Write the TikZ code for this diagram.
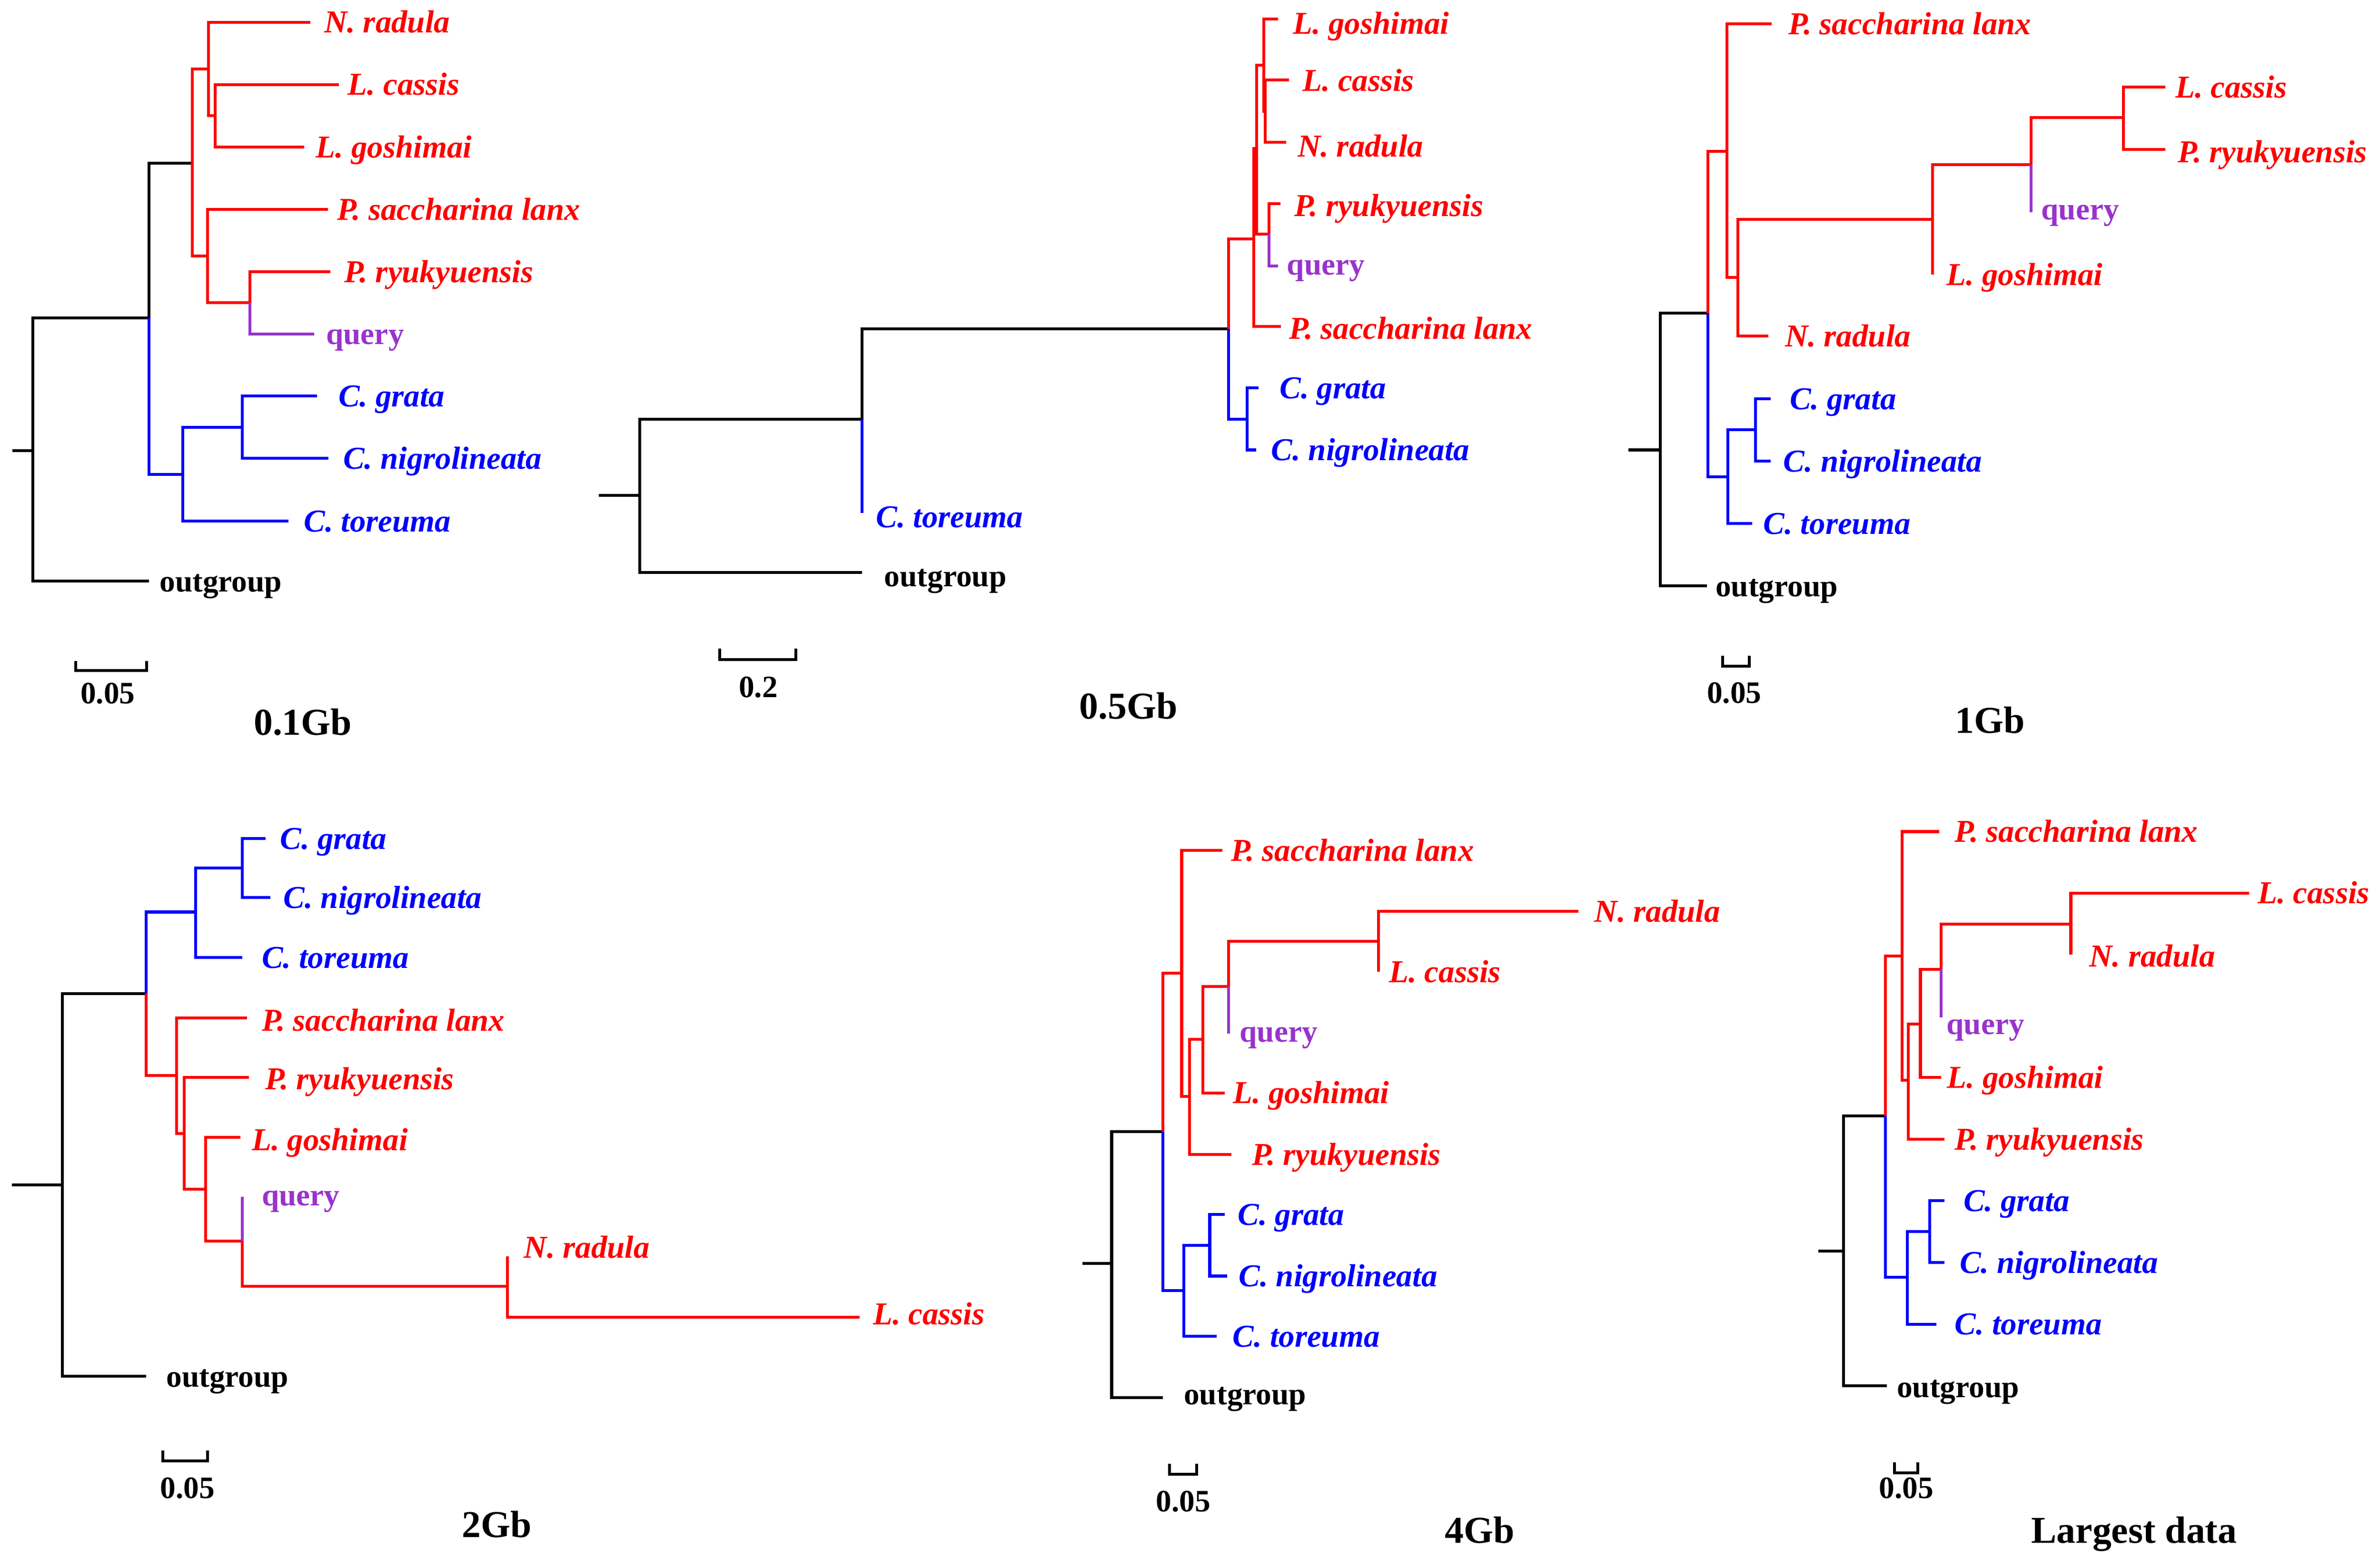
\documentclass[tikz,border=0pt]{standalone}
\usepackage{fontspec}
\setmainfont{Liberation Serif}
\definecolor{tred}{RGB}{255,0,0}
\definecolor{tblue}{RGB}{0,0,255}
\definecolor{tpurp}{RGB}{153,51,204}
\tikzset{
 br/.style={line width=1.9pt, line join=miter},
 sp/.style={anchor=base west, inner sep=0pt, yshift=-7pt, font=\fontsize{21}{24}\selectfont\bfseries\itshape},
 pl/.style={anchor=base west, inner sep=0pt, yshift=-7pt, font=\fontsize{20.5}{24}\selectfont\bfseries},
 sc/.style={anchor=base, inner sep=0pt, yshift=-7pt, font=\fontsize{20.5}{24}\selectfont\bfseries},
 ttl/.style={anchor=base, inner sep=0pt, yshift=-8.3pt, font=\fontsize{25}{30}\selectfont\bfseries},
}
\begin{document}
\begin{tikzpicture}[x=1pt,y=-1pt]
\useasboundingbox (0,0) rectangle (1568,1033.2);
\fill[white] (0,0) rectangle (1568,1033.2);

%% ---------------- Panel a : 0.1Gb ----------------
\coordinate (a-st) at (8,297);
\coordinate (a-r) at (21.5,297);
\coordinate (a-n1) at (98.2,209.5);
\coordinate (a-og) at (98.2,383);
\coordinate (a-R) at (126.6,107.6);
\coordinate (a-B) at (120.3,312.7);
\coordinate (a-R1) at (137.5,45.6);
\coordinate (a-R2) at (141.8,76.2);
\coordinate (a-R3) at (136.7,168.7);
\coordinate (a-R4) at (164.6,199.4);
\coordinate (a-B1) at (159.5,281.6);
\coordinate (a-nr) at (204.6,14.6);
\coordinate (a-lc) at (223.3,55.7);
\coordinate (a-lg) at (200.5,96.8);
\coordinate (a-ps) at (216,138);
\coordinate (a-pr) at (217.7,179);
\coordinate (a-q) at (207,220);
\coordinate (a-cg) at (208.9,261);
\coordinate (a-cn) at (216.5,302);
\coordinate (a-ct) at (189.9,343.4);
\draw[br,black] (a-st) -- (a-r);
\draw[br,black] (a-r) |- (a-n1);
\draw[br,black] (a-r) |- (a-og);
\draw[br,black] (a-n1) |- (a-R);
\draw[br,tblue] (a-n1) |- (a-B);
\draw[br,tblue] (a-B) |- (a-B1);
\draw[br,tblue] (a-B) |- (a-ct);
\draw[br,tblue] (a-B1) |- (a-cg);
\draw[br,tblue] (a-B1) |- (a-cn);
\draw[br,tred] (a-R) |- (a-R1);
\draw[br,tred] (a-R) |- (a-R3);
\draw[br,tred] (a-R1) |- (a-nr);
\draw[br,tred] (a-R1) |- (a-R2);
\draw[br,tred] (a-R2) |- (a-lc);
\draw[br,tred] (a-R2) |- (a-lg);
\draw[br,tred] (a-R3) |- (a-ps);
\draw[br,tred] (a-R3) |- (a-R4);
\draw[br,tred] (a-R4) |- (a-pr);
\draw[br,tpurp] (a-R4) |- (a-q);
\node[sp,tred] (a-nrL) at (213.4,14.6) {N. radula};
\node[sp,tred] (a-lcL) at (229,55.7) {L. cassis};
\node[sp,tred] (a-lgL) at (208,96.8) {L. goshimai};
\node[sp,tred] (a-psL) at (222,138) {P. saccharina lanx};
\node[sp,tred] (a-prL) at (226.6,179) {P. ryukyuensis};
\node[pl,tpurp] (a-qL) at (214.7,220) {query};
\node[sp,tblue] (a-cgL) at (222.8,261) {C. grata};
\node[sp,tblue] (a-cnL) at (226,302) {C. nigrolineata};
\node[sp,tblue] (a-ctL) at (200,343.4) {C. toreuma};
\node[pl,black] (a-ogL) at (105,383) {outgroup};
\coordinate (a-s1) at (50,442);
\coordinate (a-s2) at (96.7,442);
\draw[br,black] (a-s1) ++(0,-6.5) -- (a-s1) -- (a-s2) -- ++(0,-6.5);
\node[sc] (a-sL) at (71,456.6) {0.05};
\node[ttl] (a-T) at (199.5,476) {0.1Gb};

%% ---------------- Panel b : 0.5Gb ----------------
\coordinate (b-st) at (394.4,326.6);
\coordinate (b-r) at (421.5,326.6);
\coordinate (b-n1) at (567.8,276.3);
\coordinate (b-og) at (567.8,377.2);
\coordinate (b-ct) at (567.8,338);
\coordinate (b-n2) at (809.5,216.8);
\coordinate (b-R) at (826,157.3);
\coordinate (b-B) at (821.5,276.3);
\coordinate (b-A) at (828,98);
\coordinate (b-ps) at (844,215.1);
\coordinate (b-Bn) at (832.6,43);
\coordinate (b-C) at (836,154.3);
\coordinate (b-lg) at (842.1,12.6);
\coordinate (b-D) at (833.6,73.4);
\coordinate (b-lc) at (849.2,52.7);
\coordinate (b-nr) at (847.3,93.8);
\coordinate (b-pr) at (843.5,134.3);
\coordinate (b-q) at (842.1,175.4);
\coordinate (b-cg) at (829,255.7);
\coordinate (b-cn) at (827.7,296.5);
\draw[br,black] (b-st) -- (b-r);
\draw[br,black] (b-r) |- (b-n1);
\draw[br,black] (b-r) |- (b-og);
\draw[br,black] (b-n1) |- (b-n2);
\draw[br,tblue] (b-n1) -- (b-ct);
\draw[br,tblue] (b-n2) |- (b-B);
\draw[br,tblue] (b-B) |- (b-cg);
\draw[br,tblue] (b-B) |- (b-cn);
\draw[br,tred] (b-n2) |- (b-R);
\draw[br,tred] (b-R) |- (b-A);
\draw[br,tred] (b-R) |- (b-ps);
\draw[br,tred] (b-A) |- (b-Bn);
\draw[br,tred] (b-A) |- (b-C);
\draw[br,tred] (b-Bn) |- (b-lg);
\draw[br,tred] (b-Bn) |- (b-D);
\draw[br,tred] (b-D) |- (b-lc);
\draw[br,tred] (b-D) |- (b-nr);
\draw[br,tred] (b-C) |- (b-pr);
\draw[br,tpurp] (b-C) |- (b-q);
\node[sp,tred] (b-lgL) at (851.8,15.5) {L. goshimai};
\node[sp,tred] (b-lcL) at (858,53.2) {L. cassis};
\node[sp,tred] (b-nrL) at (854.7,96.2) {N. radula};
\node[sp,tred] (b-prL) at (852.6,135.5) {P. ryukyuensis};
\node[pl,tpurp] (b-qL) at (847.7,174) {query};
\node[sp,tred] (b-psL) at (849.3,216.5) {P. saccharina lanx};
\node[sp,tblue] (b-cgL) at (843,255.7) {C. grata};
\node[sp,tblue] (b-cnL) at (837.3,296.5) {C. nigrolineata};
\node[sp,tblue] (b-ctL) at (577,340.5) {C. toreuma};
\node[pl,black] (b-ogL) at (582.4,379.5) {outgroup};
\coordinate (b-s1) at (474.3,434.5);
\coordinate (b-s2) at (524.2,434.5);
\draw[br,black] (b-s1) ++(0,-7) -- (b-s1) -- (b-s2) -- ++(0,-7);
\node[sc] (b-sL) at (499.6,452.5) {0.2};
\node[ttl] (b-T) at (743.5,465.5) {0.5Gb};

%% ---------------- Panel c : 1Gb ----------------
\coordinate (c-st) at (1072.8,296.5);
\coordinate (c-r) at (1093.7,296.5);
\coordinate (c-n1) at (1125.2,206.3);
\coordinate (c-og) at (1124.5,386);
\coordinate (c-R) at (1137.7,99.7);
\coordinate (c-B) at (1138.4,314.2);
\coordinate (c-E) at (1145,182.9);
\coordinate (c-F) at (1273.2,144.6);
\coordinate (c-G) at (1338.1,108.5);
\coordinate (c-H) at (1399,77.5);
\coordinate (c-I) at (1156.6,283.2);
\coordinate (c-ps) at (1167.2,15.8);
\coordinate (c-nr) at (1164.9,221.5);
\coordinate (c-lg) at (1273.2,181);
\coordinate (c-q) at (1338.1,139.9);
\coordinate (c-lc) at (1426.5,57.3);
\coordinate (c-pr) at (1426.5,98.4);
\coordinate (c-cg) at (1166.5,262.7);
\coordinate (c-cn) at (1166.5,303.8);
\coordinate (c-ct) at (1154.3,345);
\draw[br,black] (c-st) -- (c-r);
\draw[br,black] (c-r) |- (c-n1);
\draw[br,black] (c-r) |- (c-og);
\draw[br,tred] (c-n1) |- (c-R);
\draw[br,tblue] (c-n1) |- (c-B);
\draw[br,tred] (c-R) |- (c-ps);
\draw[br,tred] (c-R) |- (c-E);
\draw[br,tred] (c-E) |- (c-F);
\draw[br,tred] (c-E) |- (c-nr);
\draw[br,tred] (c-F) |- (c-G);
\draw[br,tred] (c-F) -- (c-lg);
\draw[br,tred] (c-G) |- (c-H);
\draw[br,tpurp] (c-G) -- (c-q);
\draw[br,tred] (c-H) |- (c-lc);
\draw[br,tred] (c-H) |- (c-pr);
\draw[br,tblue] (c-B) |- (c-I);
\draw[br,tblue] (c-B) |- (c-ct);
\draw[br,tblue] (c-I) |- (c-cg);
\draw[br,tblue] (c-I) |- (c-cn);
\node[sp,tred] (c-psL) at (1178,15.8) {P. saccharina lanx};
\node[sp,tred] (c-lcL) at (1433,57.3) {L. cassis};
\node[sp,tred] (c-prL) at (1434.8,100) {P. ryukyuensis};
\node[pl,tpurp] (c-qL) at (1344.7,137.7) {query};
\node[sp,tred] (c-lgL) at (1282.4,181) {L. goshimai};
\node[sp,tred] (c-nrL) at (1175.8,221.5) {N. radula};
\node[sp,tblue] (c-cgL) at (1179,262.7) {C. grata};
\node[sp,tblue] (c-cnL) at (1174.8,303.8) {C. nigrolineata};
\node[sp,tblue] (c-ctL) at (1161.6,345) {C. toreuma};
\node[pl,black] (c-ogL) at (1130,386) {outgroup};
\coordinate (c-s1) at (1135,439);
\coordinate (c-s2) at (1152.6,439);
\draw[br,black] (c-s1) ++(0,-7) -- (c-s1) -- (c-s2) -- ++(0,-7);
\node[sc] (c-sL) at (1142.5,456.3) {0.05};
\node[ttl] (c-T) at (1311,474.7) {1Gb};

%% ---------------- Panel d : 2Gb ----------------
\coordinate (d-st) at (7.8,781);
\coordinate (d-r) at (41.2,781);
\coordinate (d-n1) at (96.4,654.7);
\coordinate (d-og) at (96.4,907);
\coordinate (d-B) at (128.9,601);
\coordinate (d-J) at (159.7,572);
\coordinate (d-R) at (116.3,708.7);
\coordinate (d-K) at (121.5,747);
\coordinate (d-L) at (135.4,783.7);
\coordinate (d-M) at (159.7,818);
\coordinate (d-N) at (334.2,847.7);
\coordinate (d-cg) at (174.9,552.7);
\coordinate (d-cn) at (178,591.4);
\coordinate (d-ct) at (159.7,631);
\coordinate (d-ps) at (162.8,670.7);
\coordinate (d-pr) at (164,710);
\coordinate (d-lg) at (158.4,749.4);
\coordinate (d-q) at (159.7,788.7);
\coordinate (d-nr) at (334.2,828);
\coordinate (d-lc) at (566.4,868);
\draw[br,black] (d-st) -- (d-r);
\draw[br,black] (d-r) |- (d-n1);
\draw[br,black] (d-r) |- (d-og);
\draw[br,tblue] (d-n1) |- (d-B);
\draw[br,tred] (d-n1) |- (d-R);
\draw[br,tblue] (d-B) |- (d-J);
\draw[br,tblue] (d-B) |- (d-ct);
\draw[br,tblue] (d-J) |- (d-cg);
\draw[br,tblue] (d-J) |- (d-cn);
\draw[br,tred] (d-R) |- (d-ps);
\draw[br,tred] (d-R) |- (d-K);
\draw[br,tred] (d-K) |- (d-pr);
\draw[br,tred] (d-K) |- (d-L);
\draw[br,tred] (d-L) |- (d-lg);
\draw[br,tred] (d-L) |- (d-M);
\draw[br,tpurp] (d-M) -- (d-q);
\draw[br,tred] (d-M) |- (d-N);
\draw[br,tred] (d-N) -- (d-nr);
\draw[br,tred] (d-N) |- (d-lc);
\node[sp,tblue] (d-cgL) at (184.5,552.7) {C. grata};
\node[sp,tblue] (d-cnL) at (186.6,591.4) {C. nigrolineata};
\node[sp,tblue] (d-ctL) at (172.3,631) {C. toreuma};
\node[sp,tred] (d-psL) at (172.3,672.5) {P. saccharina lanx};
\node[sp,tred] (d-prL) at (174.5,711) {P. ryukyuensis};
\node[sp,tred] (d-lgL) at (165.8,751) {L. goshimai};
\node[pl,tpurp] (d-qL) at (172.3,787.5) {query};
\node[sp,tred] (d-nrL) at (345,822) {N. radula};
\node[sp,tred] (d-lcL) at (575,866) {L. cassis};
\node[pl,black] (d-ogL) at (109.4,907) {outgroup};
\coordinate (d-s1) at (107.2,962.7);
\coordinate (d-s2) at (136.7,962.7);
\draw[br,black] (d-s1) ++(0,-7) -- (d-s1) -- (d-s2) -- ++(0,-7);
\node[sc] (d-sL) at (123.6,980.4) {0.05};
\node[ttl] (d-T) at (327.2,1004.7) {2Gb};

%% ---------------- Panel e : 4Gb ----------------
\coordinate (e-st) at (713,832.7);
\coordinate (e-r) at (732.4,832.7);
\coordinate (e-n1) at (766,745.8);
\coordinate (e-og) at (766,921);
\coordinate (e-R) at (778.5,641.4);
\coordinate (e-B) at (780,850.6);
\coordinate (e-O) at (783.7,722.5);
\coordinate (e-P) at (792.4,684.8);
\coordinate (e-Q) at (809.3,650.1);
\coordinate (e-W) at (908.3,620.3);
\coordinate (e-S) at (797,820.7);
\coordinate (e-ps) at (805.3,560.3);
\coordinate (e-pr) at (811.4,760.7);
\coordinate (e-lg) at (806.8,720.2);
\coordinate (e-q) at (809.3,681);
\coordinate (e-nr) at (1039.8,600.5);
\coordinate (e-lc) at (908.3,640.4);
\coordinate (e-cg) at (806.8,800.3);
\coordinate (e-cn) at (808.3,840.9);
\coordinate (e-ct) at (801.6,880.7);
\draw[br,black] (e-st) -- (e-r);
\draw[br,black] (e-r) |- (e-n1);
\draw[br,black] (e-r) |- (e-og);
\draw[br,tred] (e-n1) |- (e-R);
\draw[br,tblue] (e-n1) |- (e-B);
\draw[br,tred] (e-R) |- (e-ps);
\draw[br,tred] (e-R) |- (e-O);
\draw[br,tred] (e-O) |- (e-P);
\draw[br,tred] (e-O) |- (e-pr);
\draw[br,tred] (e-P) |- (e-Q);
\draw[br,tred] (e-P) |- (e-lg);
\draw[br,tred] (e-Q) |- (e-W);
\draw[br,tpurp] (e-Q) -- (e-q);
\draw[br,tred] (e-W) |- (e-nr);
\draw[br,tred] (e-W) -- (e-lc);
\draw[br,tblue] (e-B) |- (e-S);
\draw[br,tblue] (e-B) |- (e-ct);
\draw[br,tblue] (e-S) |- (e-cg);
\draw[br,tblue] (e-S) |- (e-cn);
\node[sp,tred] (e-psL) at (810.8,560.3) {P. saccharina lanx};
\node[sp,tred] (e-nrL) at (1050.3,600.5) {N. radula};
\node[sp,tred] (e-lcL) at (915,640.4) {L. cassis};
\node[pl,tpurp] (e-qL) at (816.6,679.6) {query};
\node[sp,tred] (e-lgL) at (812.3,720.2) {L. goshimai};
\node[sp,tred] (e-prL) at (824.6,760.7) {P. ryukyuensis};
\node[sp,tblue] (e-cgL) at (815.4,800.3) {C. grata};
\node[sp,tblue] (e-cnL) at (816,840.9) {C. nigrolineata};
\node[sp,tblue] (e-ctL) at (812,880.7) {C. toreuma};
\node[pl,black] (e-ogL) at (779.8,918.7) {outgroup};
\coordinate (e-s1) at (770.5,971.6);
\coordinate (e-s2) at (788.4,971.6);
\draw[br,black] (e-s1) ++(0,-7) -- (e-s1) -- (e-s2) -- ++(0,-7);
\node[sc] (e-sL) at (779.6,989.1) {0.05};
\node[ttl] (e-T) at (974.8,1008.5) {4Gb};

%% ---------------- Panel f : Largest data ----------------
\coordinate (f-st) at (1197.8,824.3);
\coordinate (f-r) at (1214.5,824.3);
\coordinate (f-n1) at (1242.2,735.4);
\coordinate (f-og) at (1243.2,913.2);
\coordinate (f-R) at (1253.2,630);
\coordinate (f-B) at (1256.5,841.8);
\coordinate (f-T) at (1257.2,712);
\coordinate (f-U) at (1265.2,674.8);
\coordinate (f-V) at (1278.9,638.8);
\coordinate (f-W) at (1364.3,609);
\coordinate (f-X) at (1271.4,811.7);
\coordinate (f-ps) at (1277.7,548);
\coordinate (f-pr) at (1280.9,750.7);
\coordinate (f-lg) at (1278.9,710.1);
\coordinate (f-q) at (1278.9,670.6);
\coordinate (f-lc) at (1481.6,588.5);
\coordinate (f-nr) at (1364.3,629);
\coordinate (f-cg) at (1280.9,791.2);
\coordinate (f-cn) at (1280.9,832);
\coordinate (f-ct) at (1275.7,872.6);
\draw[br,black] (f-st) -- (f-r);
\draw[br,black] (f-r) |- (f-n1);
\draw[br,black] (f-r) |- (f-og);
\draw[br,tred] (f-n1) |- (f-R);
\draw[br,tblue] (f-n1) |- (f-B);
\draw[br,tred] (f-R) |- (f-ps);
\draw[br,tred] (f-R) |- (f-T);
\draw[br,tred] (f-T) |- (f-U);
\draw[br,tred] (f-T) |- (f-pr);
\draw[br,tred] (f-U) |- (f-V);
\draw[br,tred] (f-U) |- (f-lg);
\draw[br,tred] (f-V) |- (f-W);
\draw[br,tpurp] (f-V) -- (f-q);
\draw[br,tred] (f-W) |- (f-lc);
\draw[br,tred] (f-W) -- (f-nr);
\draw[br,tblue] (f-B) |- (f-X);
\draw[br,tblue] (f-B) |- (f-ct);
\draw[br,tblue] (f-X) |- (f-cg);
\draw[br,tblue] (f-X) |- (f-cn);
\node[sp,tred] (f-psL) at (1287.7,548) {P. saccharina lanx};
\node[sp,tred] (f-lcL) at (1487.3,588.5) {L. cassis};
\node[sp,tred] (f-nrL) at (1376.3,630) {N. radula};
\node[pl,tpurp] (f-qL) at (1282.2,674.5) {query};
\node[sp,tred] (f-lgL) at (1282.7,710.1) {L. goshimai};
\node[sp,tred] (f-prL) at (1287.7,750.7) {P. ryukyuensis};
\node[sp,tblue] (f-cgL) at (1293.4,791.2) {C. grata};
\node[sp,tblue] (f-cnL) at (1290.9,832) {C. nigrolineata};
\node[sp,tblue] (f-ctL) at (1287.7,872.6) {C. toreuma};
\node[pl,black] (f-ogL) at (1249.5,913.8) {outgroup};
\coordinate (f-s1) at (1248.2,970.6);
\coordinate (f-s2) at (1263.4,970.6);
\draw[br,black] (f-s1) ++(0,-7) -- (f-s1) -- (f-s2) -- ++(0,-7);
\node[sc] (f-sL) at (1256,980.3) {0.05};
\node[ttl] (f-Ttl) at (1406,1008.5) {Largest data};
\end{tikzpicture}
\end{document}
